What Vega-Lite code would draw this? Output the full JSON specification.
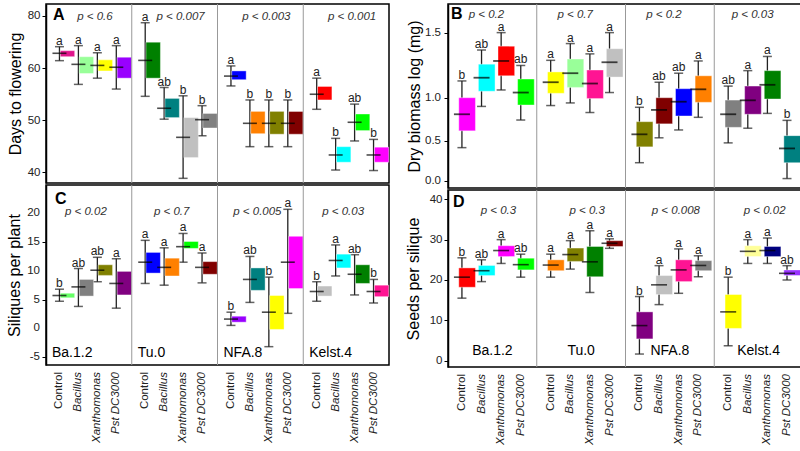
{
"$schema": "https://vega.github.io/schema/vega-lite/v6.json",
"padding": {"left": 5, "top": 2, "right": 0, "bottom": 0},
"background": "white",
"config": {
  "font": "Liberation Sans",
  "view": {"stroke": "black", "strokeWidth": 1.5},
  "axis": {"domainColor": "black", "domainWidth": 1.5, "tickColor": "black", "tickSize": 4, "labelFontSize": 11.5, "labelColor": "#222", "labelOverlap": false, "labelBound": false, "labelFlush": false, "labelSeparation": 0, "titleFontSize": 16, "titleFontWeight": "normal", "titleColor": "black", "grid": false, "labelPadding": 2, "titlePadding": 4}
},
"datasets": {
"boxes": [
{"panel":"A","genotype":"Ba.1.2","treatment":"Control","lo":62.9,"q1":64.4,"med":65.7,"q3":66.7,"hi":68.2,"letter":"a"},
{"panel":"A","genotype":"Ba.1.2","treatment":"Bacillus","lo":56.9,"q1":59.0,"med":61.5,"q3":64.4,"hi":68.6,"letter":"a"},
{"panel":"A","genotype":"Ba.1.2","treatment":"Xanthomonas","lo":58.1,"q1":59.5,"med":61.1,"q3":63.2,"hi":65.9,"letter":"a"},
{"panel":"A","genotype":"Ba.1.2","treatment":"Pst DC3000","lo":56.0,"q1":58.1,"med":60.4,"q3":64.2,"hi":68.6,"letter":"a"},
{"panel":"A","genotype":"Tu.0","treatment":"Control","lo":54.6,"q1":58.1,"med":63.0,"q3":69.9,"hi":77.3,"letter":"a"},
{"panel":"A","genotype":"Tu.0","treatment":"Bacillus","lo":50.2,"q1":50.5,"med":52.3,"q3":54.2,"hi":56.3,"letter":"ab"},
{"panel":"A","genotype":"Tu.0","treatment":"Xanthomonas","lo":38.8,"q1":42.8,"med":46.7,"q3":50.5,"hi":54.7,"letter":"b"},
{"panel":"A","genotype":"Tu.0","treatment":"Pst DC3000","lo":47.0,"q1":48.5,"med":50.1,"q3":51.3,"hi":52.8,"letter":"b"},
{"panel":"A","genotype":"NFA.8","treatment":"Control","lo":56.6,"q1":57.8,"med":58.5,"q3":59.5,"hi":60.9,"letter":"a"},
{"panel":"A","genotype":"NFA.8","treatment":"Bacillus","lo":44.9,"q1":47.4,"med":49.4,"q3":51.7,"hi":53.9,"letter":"b"},
{"panel":"A","genotype":"NFA.8","treatment":"Xanthomonas","lo":44.9,"q1":47.3,"med":49.4,"q3":51.7,"hi":53.9,"letter":"b"},
{"panel":"A","genotype":"NFA.8","treatment":"Pst DC3000","lo":44.9,"q1":47.3,"med":49.4,"q3":51.7,"hi":53.9,"letter":"b"},
{"panel":"A","genotype":"Kelst.4","treatment":"Control","lo":52.1,"q1":53.9,"med":55.0,"q3":56.5,"hi":58.1,"letter":"a"},
{"panel":"A","genotype":"Kelst.4","treatment":"Bacillus","lo":40.4,"q1":41.9,"med":43.3,"q3":44.9,"hi":46.5,"letter":"b"},
{"panel":"A","genotype":"Kelst.4","treatment":"Xanthomonas","lo":46.0,"q1":48.0,"med":49.6,"q3":51.2,"hi":53.1,"letter":"ab"},
{"panel":"A","genotype":"Kelst.4","treatment":"Pst DC3000","lo":40.3,"q1":41.9,"med":43.3,"q3":44.8,"hi":46.3,"letter":"b"},
{"panel":"B","genotype":"Ba.1.2","treatment":"Control","lo":0.42,"q1":0.62,"med":0.81,"q3":1.0,"hi":1.13,"letter":"b"},
{"panel":"B","genotype":"Ba.1.2","treatment":"Bacillus","lo":0.90,"q1":1.05,"med":1.155,"q3":1.26,"hi":1.37,"letter":"ab"},
{"panel":"B","genotype":"Ba.1.2","treatment":"Xanthomonas","lo":1.06,"q1":1.17,"med":1.285,"q3":1.40,"hi":1.505,"letter":"a"},
{"panel":"B","genotype":"Ba.1.2","treatment":"Pst DC3000","lo":0.744,"q1":0.916,"med":1.04,"q3":1.145,"hi":1.25,"letter":"ab"},
{"panel":"B","genotype":"Tu.0","treatment":"Control","lo":0.91,"q1":1.034,"med":1.12,"q3":1.20,"hi":1.29,"letter":"a"},
{"panel":"B","genotype":"Tu.0","treatment":"Bacillus","lo":0.94,"q1":1.08,"med":1.19,"q3":1.30,"hi":1.42,"letter":"a"},
{"panel":"B","genotype":"Tu.0","treatment":"Xanthomonas","lo":0.83,"q1":0.99,"med":1.11,"q3":1.215,"hi":1.34,"letter":"a"},
{"panel":"B","genotype":"Tu.0","treatment":"Pst DC3000","lo":1.04,"q1":1.16,"med":1.275,"q3":1.38,"hi":1.505,"letter":"a"},
{"panel":"B","genotype":"NFA.8","treatment":"Control","lo":0.23,"q1":0.43,"med":0.58,"q3":0.725,"hi":0.89,"letter":"b"},
{"panel":"B","genotype":"NFA.8","treatment":"Bacillus","lo":0.54,"q1":0.70,"med":0.86,"q3":1.0,"hi":1.12,"letter":"ab"},
{"panel":"B","genotype":"NFA.8","treatment":"Xanthomonas","lo":0.63,"q1":0.79,"med":0.954,"q3":1.07,"hi":1.19,"letter":"ab"},
{"panel":"B","genotype":"NFA.8","treatment":"Pst DC3000","lo":0.775,"q1":0.947,"med":1.065,"q3":1.17,"hi":1.285,"letter":"a"},
{"panel":"B","genotype":"Kelst.4","treatment":"Control","lo":0.48,"q1":0.66,"med":0.81,"q3":0.973,"hi":1.09,"letter":"ab"},
{"panel":"B","genotype":"Kelst.4","treatment":"Bacillus","lo":0.65,"q1":0.81,"med":0.97,"q3":1.09,"hi":1.21,"letter":"a"},
{"panel":"B","genotype":"Kelst.4","treatment":"Xanthomonas","lo":0.82,"q1":0.985,"med":1.10,"q3":1.21,"hi":1.32,"letter":"a"},
{"panel":"B","genotype":"Kelst.4","treatment":"Pst DC3000","lo":0.03,"q1":0.23,"med":0.41,"q3":0.565,"hi":0.74,"letter":"b"},
{"panel":"C","genotype":"Ba.1.2","treatment":"Control","lo":4.7,"q1":5.3,"med":5.7,"q3":6.1,"hi":6.8,"letter":"b"},
{"panel":"C","genotype":"Ba.1.2","treatment":"Bacillus","lo":3.8,"q1":5.6,"med":7.2,"q3":8.5,"hi":10.4,"letter":"ab"},
{"panel":"C","genotype":"Ba.1.2","treatment":"Xanthomonas","lo":8.1,"q1":9.2,"med":10.1,"q3":11.05,"hi":12.35,"letter":"ab"},
{"panel":"C","genotype":"Ba.1.2","treatment":"Pst DC3000","lo":3.5,"q1":5.8,"med":7.8,"q3":9.9,"hi":12.1,"letter":"a"},
{"panel":"C","genotype":"Tu.0","treatment":"Control","lo":7.8,"q1":9.6,"med":11.5,"q3":13.2,"hi":15.3,"letter":"a"},
{"panel":"C","genotype":"Tu.0","treatment":"Bacillus","lo":7.5,"q1":9.1,"med":10.6,"q3":12.2,"hi":14.0,"letter":"a"},
{"panel":"C","genotype":"Tu.0","treatment":"Xanthomonas","lo":11.5,"q1":13.9,"med":14.2,"q3":15.1,"hi":16.5,"letter":"a"},
{"panel":"C","genotype":"Tu.0","treatment":"Pst DC3000","lo":7.9,"q1":9.4,"med":10.6,"q3":11.6,"hi":13.1,"letter":"a"},
{"panel":"C","genotype":"NFA.8","treatment":"Control","lo":0.5,"q1":1.06,"med":1.6,"q3":2.1,"hi":2.8,"letter":"b"},
{"panel":"C","genotype":"NFA.8","treatment":"Bacillus","lo":4.5,"q1":6.6,"med":8.5,"q3":10.5,"hi":12.5,"letter":"ab"},
{"panel":"C","genotype":"NFA.8","treatment":"Xanthomonas","lo":-3.2,"q1":-0.2,"med":2.8,"q3":5.7,"hi":8.9,"letter":"b"},
{"panel":"C","genotype":"NFA.8","treatment":"Pst DC3000","lo":2.6,"q1":6.9,"med":11.5,"q3":16.0,"hi":20.7,"letter":"a"},
{"panel":"C","genotype":"Kelst.4","treatment":"Control","lo":4.7,"q1":5.6,"med":6.4,"q3":7.35,"hi":8.1,"letter":"b"},
{"panel":"C","genotype":"Kelst.4","treatment":"Bacillus","lo":9.1,"q1":10.5,"med":11.8,"q3":12.9,"hi":14.5,"letter":"a"},
{"panel":"C","genotype":"Kelst.4","treatment":"Xanthomonas","lo":5.8,"q1":7.8,"med":9.4,"q3":11.05,"hi":12.8,"letter":"ab"},
{"panel":"C","genotype":"Kelst.4","treatment":"Pst DC3000","lo":4.4,"q1":5.5,"med":6.4,"q3":7.5,"hi":8.5,"letter":"b"},
{"panel":"D","genotype":"Ba.1.2","treatment":"Control","lo":15.5,"q1":18.2,"med":20.7,"q3":23.0,"hi":25.5,"letter":"b"},
{"panel":"D","genotype":"Ba.1.2","treatment":"Bacillus","lo":19.6,"q1":21.1,"med":22.3,"q3":23.6,"hi":25.0,"letter":"ab"},
{"panel":"D","genotype":"Ba.1.2","treatment":"Xanthomonas","lo":24.1,"q1":25.8,"med":27.3,"q3":28.5,"hi":30.0,"letter":"a"},
{"panel":"D","genotype":"Ba.1.2","treatment":"Pst DC3000","lo":20.7,"q1":22.5,"med":23.8,"q3":25.4,"hi":26.4,"letter":"ab"},
{"panel":"D","genotype":"Tu.0","treatment":"Control","lo":20.7,"q1":22.3,"med":23.7,"q3":25.0,"hi":26.4,"letter":"a"},
{"panel":"D","genotype":"Tu.0","treatment":"Bacillus","lo":22.7,"q1":24.6,"med":26.3,"q3":27.9,"hi":29.75,"letter":"a"},
{"panel":"D","genotype":"Tu.0","treatment":"Xanthomonas","lo":16.9,"q1":20.8,"med":24.5,"q3":28.3,"hi":32.2,"letter":"a"},
{"panel":"D","genotype":"Tu.0","treatment":"Pst DC3000","lo":27.85,"q1":28.3,"med":29.1,"q3":29.75,"hi":30.2,"letter":"a"},
{"panel":"D","genotype":"NFA.8","treatment":"Control","lo":1.65,"q1":5.4,"med":8.7,"q3":12.1,"hi":15.9,"letter":"b"},
{"panel":"D","genotype":"NFA.8","treatment":"Bacillus","lo":13.9,"q1":16.4,"med":18.8,"q3":21.1,"hi":23.55,"letter":"a"},
{"panel":"D","genotype":"NFA.8","treatment":"Xanthomonas","lo":16.7,"q1":19.6,"med":22.5,"q3":25.0,"hi":27.7,"letter":"a"},
{"panel":"D","genotype":"NFA.8","treatment":"Pst DC3000","lo":20.8,"q1":22.3,"med":23.6,"q3":24.8,"hi":26.0,"letter":"a"},
{"panel":"D","genotype":"Kelst.4","treatment":"Control","lo":3.7,"q1":8.0,"med":12.1,"q3":16.4,"hi":20.7,"letter":"b"},
{"panel":"D","genotype":"Kelst.4","treatment":"Bacillus","lo":24.1,"q1":25.8,"med":27.1,"q3":28.5,"hi":30.0,"letter":"a"},
{"panel":"D","genotype":"Kelst.4","treatment":"Xanthomonas","lo":24.1,"q1":25.8,"med":27.3,"q3":28.3,"hi":30.4,"letter":"a"},
{"panel":"D","genotype":"Kelst.4","treatment":"Pst DC3000","lo":20.0,"q1":21.1,"med":21.65,"q3":22.5,"hi":23.55,"letter":"ab"}
],
"groups": [
{"panel":"A","genotype":"Ba.1.2","p":"p < 0.6"},
{"panel":"A","genotype":"Tu.0","p":"p < 0.007"},
{"panel":"A","genotype":"NFA.8","p":"p < 0.003"},
{"panel":"A","genotype":"Kelst.4","p":"p < 0.001"},
{"panel":"B","genotype":"Ba.1.2","p":"p < 0.2"},
{"panel":"B","genotype":"Tu.0","p":"p < 0.7"},
{"panel":"B","genotype":"NFA.8","p":"p < 0.2"},
{"panel":"B","genotype":"Kelst.4","p":"p < 0.03"},
{"panel":"C","genotype":"Ba.1.2","p":"p < 0.02"},
{"panel":"C","genotype":"Tu.0","p":"p < 0.7"},
{"panel":"C","genotype":"NFA.8","p":"p < 0.005"},
{"panel":"C","genotype":"Kelst.4","p":"p < 0.03"},
{"panel":"D","genotype":"Ba.1.2","p":"p < 0.3"},
{"panel":"D","genotype":"Tu.0","p":"p < 0.3"},
{"panel":"D","genotype":"NFA.8","p":"p < 0.008"},
{"panel":"D","genotype":"Kelst.4","p":"p < 0.02"}
],
"yticks": [
{"panel":"B","genotype":"Ba.1.2","value":0.0,"label":"0.0"},
{"panel":"B","genotype":"Ba.1.2","value":0.5,"label":"0.5"},
{"panel":"B","genotype":"Ba.1.2","value":1.0,"label":"1.0"},
{"panel":"B","genotype":"Ba.1.2","value":1.5,"label":"1.5"},
{"panel":"C","genotype":"Ba.1.2","value":-5,"label":"-5"},
{"panel":"C","genotype":"Ba.1.2","value":0,"label":"0"},
{"panel":"C","genotype":"Ba.1.2","value":5,"label":"5"},
{"panel":"C","genotype":"Ba.1.2","value":10,"label":"10"},
{"panel":"C","genotype":"Ba.1.2","value":15,"label":"15"},
{"panel":"C","genotype":"Ba.1.2","value":20,"label":"20"}
]
},
"spacing": 13,
"resolve": {"scale": {"color": "independent", "y": "independent", "x": "independent", "xOffset": "independent"}},
"hconcat": [
{
"spacing": -4,
"resolve": {"scale": {"color": "independent", "y": "independent", "x": "independent", "xOffset": "independent"}},
"vconcat": [
{
"width": 343, "height": 179,
"layer": [
{
"data": {"name": "boxes"},
"transform": [{"filter": "datum.panel === 'A'"}, {"calculate": "datum.genotype + '|' + datum.treatment", "as": "key"}],
"encoding": {
  "x": {"field": "genotype", "type": "nominal", "scale": {"domain": ["Ba.1.2","Tu.0","NFA.8","Kelst.4"], "paddingInner": 0, "paddingOuter": 0}, "axis": null},
  "xOffset": {"field": "treatment", "type": "nominal", "scale": {"domain": ["Control","Bacillus","Xanthomonas","Pst DC3000"], "paddingInner": 0, "paddingOuter": 0.263, "align": 0.4}}
},
"layer": [
{"mark": {"type": "rule", "color": "#222", "strokeWidth": 1.3},
 "encoding": {"y": {"field": "lo", "type": "quantitative", "title": "Days to flowering", "scale": {"domain": [37.9, 60, 84.4], "range": [179, 64.3, 0], "nice": false, "zero": false},
   "axis": {"values": [40,45,50,55,60,70,80], "labelOverlap": false, "labelExpr": "datum.value == 45 || datum.value == 55 || datum.value == 70 ? '' : datum.label"}},
  "y2": {"field": "hi"}}},
{"mark": {"type": "tick", "color": "#222", "size": 9, "thickness": 1.5}, "encoding": {"y": {"field": "lo", "type": "quantitative", "title": "Days to flowering"}}},
{"mark": {"type": "tick", "color": "#222", "size": 9, "thickness": 1.5}, "encoding": {"y": {"field": "hi", "type": "quantitative", "title": "Days to flowering"}}},
{"mark": {"type": "bar", "width": {"band": 0.76}, "stroke": "white", "strokeOpacity": 0.4, "strokeWidth": 1},
 "encoding": {"y": {"field": "q1", "type": "quantitative", "title": "Days to flowering"}, "y2": {"field": "q3"},
  "color": {"field": "key", "type": "nominal", "legend": null, "scale": {
   "domain": ["Ba.1.2|Control","Ba.1.2|Bacillus","Ba.1.2|Xanthomonas","Ba.1.2|Pst DC3000","Tu.0|Control","Tu.0|Bacillus","Tu.0|Xanthomonas","Tu.0|Pst DC3000","NFA.8|Control","NFA.8|Bacillus","NFA.8|Xanthomonas","NFA.8|Pst DC3000","Kelst.4|Control","Kelst.4|Bacillus","Kelst.4|Xanthomonas","Kelst.4|Pst DC3000"],
   "range": ["#e0168c","#99ff99","#ffff00","#9900ff","#008000","#008080","#c0c0c0","#808080","#0000ff","#ff8000","#808000","#800000","#ff0000","#00ffff","#00ff00","#ff00ff"]}}}},
{"mark": {"type": "tick", "color": "black", "size": 14, "thickness": 1.6}, "encoding": {"y": {"field": "med", "type": "quantitative", "title": "Days to flowering"}}},
{"mark": {"type": "text", "fontSize": 12, "color": "#222", "baseline": "alphabetic", "dy": -2}, "encoding": {"y": {"field": "hi", "type": "quantitative", "title": "Days to flowering"}, "text": {"field": "letter"}}}
]
},
{
"data": {"name": "groups"},
"transform": [{"filter": "datum.panel === 'A'"}],
"encoding": {"x": {"field": "genotype", "type": "nominal", "scale": {"domain": ["Ba.1.2","Tu.0","NFA.8","Kelst.4"], "paddingInner": 0, "paddingOuter": 0}, "axis": null}},
"layer": [
{"transform": [{"filter": "datum.genotype !== 'Ba.1.2'"}], "mark": {"type": "rule", "color": "#999", "strokeWidth": 1}, "encoding": {"x": {"field": "genotype", "type": "nominal", "bandPosition": 0}}},
{"mark": {"type": "text", "fontStyle": "italic", "fontSize": 11.5, "color": "#333", "dx": 6}, "encoding": {"y": {"datum": 79.6, "title": "Days to flowering"}, "text": {"field": "p"}}},
{"transform": [{"filter": "datum.genotype === 'Ba.1.2'"}], "mark": {"type": "text", "text": "A", "fontSize": 16, "fontWeight": "bold", "align": "left", "dx": 7, "color": "black"}, "encoding": {"x": {"field": "genotype", "type": "nominal", "bandPosition": 0}, "y": {"datum": 80.2, "title": "Days to flowering"}}}
]
}
]
},
{
"width": 343, "height": 180,
"layer": [
{
"data": {"name": "boxes"},
"transform": [{"filter": "datum.panel === 'C'"}, {"calculate": "datum.genotype + '|' + datum.treatment", "as": "key"}],
"encoding": {
  "x": {"field": "genotype", "type": "nominal", "scale": {"domain": ["Ba.1.2","Tu.0","NFA.8","Kelst.4"], "paddingInner": 0, "paddingOuter": 0}, "axis": null},
  "xOffset": {"field": "treatment", "type": "nominal", "scale": {"domain": ["Control","Bacillus","Xanthomonas","Pst DC3000"], "paddingInner": 0, "paddingOuter": 0.263, "align": 0.4}}
},
"layer": [
{"mark": {"type": "rule", "color": "#222", "strokeWidth": 1.3},
 "encoding": {"y": {"field": "lo", "type": "quantitative", "title": "Siliques per plant", "scale": {"domain": [-6.39, 24.93], "nice": false, "zero": false},
   "axis": {"values": [-5,0,5,10,15,20], "labels": false, "titlePadding": 19}},
  "y2": {"field": "hi"}}},
{"mark": {"type": "tick", "color": "#222", "size": 9, "thickness": 1.5}, "encoding": {"y": {"field": "lo", "type": "quantitative", "title": "Siliques per plant"}}},
{"mark": {"type": "tick", "color": "#222", "size": 9, "thickness": 1.5}, "encoding": {"y": {"field": "hi", "type": "quantitative", "title": "Siliques per plant"}}},
{"mark": {"type": "bar", "width": {"band": 0.76}, "stroke": "white", "strokeOpacity": 0.4, "strokeWidth": 1},
 "encoding": {"y": {"field": "q1", "type": "quantitative", "title": "Siliques per plant"}, "y2": {"field": "q3"},
  "color": {"field": "key", "type": "nominal", "legend": null, "scale": {
   "domain": ["Ba.1.2|Control","Ba.1.2|Bacillus","Ba.1.2|Xanthomonas","Ba.1.2|Pst DC3000","Tu.0|Control","Tu.0|Bacillus","Tu.0|Xanthomonas","Tu.0|Pst DC3000","NFA.8|Control","NFA.8|Bacillus","NFA.8|Xanthomonas","NFA.8|Pst DC3000","Kelst.4|Control","Kelst.4|Bacillus","Kelst.4|Xanthomonas","Kelst.4|Pst DC3000"],
   "range": ["#66ff66","#808080","#808000","#800080","#0000ff","#ff8000","#00ff00","#800000","#9900ff","#008080","#ffff00","#ff00ff","#c0c0c0","#00ffff","#008000","#ff1493"]}}}},
{"mark": {"type": "tick", "color": "black", "size": 14, "thickness": 1.6}, "encoding": {"y": {"field": "med", "type": "quantitative", "title": "Siliques per plant"}}},
{"mark": {"type": "text", "fontSize": 12, "color": "#222", "baseline": "alphabetic", "dy": -2}, "encoding": {"y": {"field": "hi", "type": "quantitative", "title": "Siliques per plant"}, "text": {"field": "letter"}}},
{"transform": [{"filter": "datum.treatment === 'Control'"}], "mark": {"type": "text", "angle": 270, "align": "right", "baseline": "middle", "dx": -7, "fontSize": 11.5, "color": "#222"}, "encoding": {"y": {"datum": -6.39, "title": "Siliques per plant"}, "text": {"field": "treatment"}}},
{"transform": [{"filter": "datum.treatment !== 'Control'"}], "mark": {"type": "text", "angle": 270, "align": "right", "baseline": "middle", "dx": -7, "fontSize": 11.5, "fontStyle": "italic", "color": "#222"}, "encoding": {"y": {"datum": -6.39, "title": "Siliques per plant"}, "text": {"field": "treatment"}}}
]
},
{
"data": {"name": "groups"},
"transform": [{"filter": "datum.panel === 'C'"}],
"encoding": {"x": {"field": "genotype", "type": "nominal", "scale": {"domain": ["Ba.1.2","Tu.0","NFA.8","Kelst.4"], "paddingInner": 0, "paddingOuter": 0}, "axis": null}},
"layer": [
{"transform": [{"filter": "datum.genotype !== 'Ba.1.2'"}], "mark": {"type": "rule", "color": "#999", "strokeWidth": 1}, "encoding": {"x": {"field": "genotype", "type": "nominal", "bandPosition": 0}}},
{"mark": {"type": "text", "fontStyle": "italic", "fontSize": 11.5, "color": "#333", "dx": -3}, "encoding": {"y": {"datum": 20.23, "title": "Siliques per plant"}, "text": {"field": "p"}}},
{"mark": {"type": "text", "fontSize": 14, "align": "left", "dx": 6, "color": "black"}, "encoding": {"x": {"field": "genotype", "type": "nominal", "bandPosition": 0}, "y": {"datum": -4.33, "title": "Siliques per plant"}, "text": {"field": "genotype"}}},
{"transform": [{"filter": "datum.genotype === 'Ba.1.2'"}], "mark": {"type": "text", "text": "C", "fontSize": 16, "fontWeight": "bold", "align": "left", "dx": 9, "color": "black"}, "encoding": {"x": {"field": "genotype", "type": "nominal", "bandPosition": 0}, "y": {"datum": 22.5, "title": "Siliques per plant"}}}
]
},
{
"data": {"name": "yticks"},
"transform": [{"filter": "datum.panel === 'C'"}],
"mark": {"type": "text", "align": "right", "baseline": "middle", "dx": -6, "fontSize": 11.5, "color": "#222"},
"encoding": {"x": {"field": "genotype", "type": "nominal", "bandPosition": 0, "scale": {"domain": ["Ba.1.2","Tu.0","NFA.8","Kelst.4"], "paddingInner": 0, "paddingOuter": 0}, "axis": null}, "y": {"field": "value", "type": "quantitative", "title": "Siliques per plant"}, "text": {"field": "label"}}
}
]
}
]
},
{
"spacing": -5,
"resolve": {"scale": {"color": "independent", "y": "independent", "x": "independent", "xOffset": "independent"}},
"vconcat": [
{
"width": 355, "height": 184,
"layer": [
{
"data": {"name": "yticks"},
"transform": [{"filter": "datum.panel === 'B'"}],
"mark": {"type": "text", "align": "right", "baseline": "middle", "dx": -7, "fontSize": 11.5, "color": "#222", "zindex": 5},
"encoding": {"x": {"field": "genotype", "type": "nominal", "bandPosition": 0, "scale": {"domain": ["Ba.1.2","Tu.0","NFA.8","Kelst.4"], "paddingInner": 0, "paddingOuter": 0}, "axis": null}, "y": {"field": "value", "type": "quantitative", "title": "Dry biomass log (mg)", "scale": {"domain": [-0.089, 0.5, 1.0, 1.727], "range": [184, 137.3, 93.7, 0], "nice": false, "zero": false}, "axis": {"values": [0, 0.5, 1.0, 1.5], "labels": false, "titlePadding": 21}}, "text": {"field": "label"}}
},
{
"data": {"name": "boxes"},
"transform": [{"filter": "datum.panel === 'B'"}, {"calculate": "datum.genotype + '|' + datum.treatment", "as": "key"}],
"encoding": {
  "x": {"field": "genotype", "type": "nominal", "scale": {"domain": ["Ba.1.2","Tu.0","NFA.8","Kelst.4"], "paddingInner": 0, "paddingOuter": 0}, "axis": null},
  "xOffset": {"field": "treatment", "type": "nominal", "scale": {"domain": ["Control","Bacillus","Xanthomonas","Pst DC3000"], "paddingInner": 0, "paddingOuter": 0.263, "align": 0.4}}
},
"layer": [
{"mark": {"type": "rule", "color": "#222", "strokeWidth": 1.3},
 "encoding": {"y": {"field": "lo", "type": "quantitative", "title": "Dry biomass log (mg)"}, "y2": {"field": "hi"}}},
{"mark": {"type": "tick", "color": "#222", "size": 9, "thickness": 1.5}, "encoding": {"y": {"field": "lo", "type": "quantitative", "title": "Dry biomass log (mg)"}}},
{"mark": {"type": "tick", "color": "#222", "size": 9, "thickness": 1.5}, "encoding": {"y": {"field": "hi", "type": "quantitative", "title": "Dry biomass log (mg)"}}},
{"mark": {"type": "bar", "width": {"band": 0.85}, "stroke": "white", "strokeOpacity": 0.4, "strokeWidth": 1},
 "encoding": {"y": {"field": "q1", "type": "quantitative", "title": "Dry biomass log (mg)"}, "y2": {"field": "q3"},
  "color": {"field": "key", "type": "nominal", "legend": null, "scale": {
   "domain": ["Ba.1.2|Control","Ba.1.2|Bacillus","Ba.1.2|Xanthomonas","Ba.1.2|Pst DC3000","Tu.0|Control","Tu.0|Bacillus","Tu.0|Xanthomonas","Tu.0|Pst DC3000","NFA.8|Control","NFA.8|Bacillus","NFA.8|Xanthomonas","NFA.8|Pst DC3000","Kelst.4|Control","Kelst.4|Bacillus","Kelst.4|Xanthomonas","Kelst.4|Pst DC3000"],
   "range": ["#ff00ff","#00ffff","#ff0000","#00ff00","#ffff00","#99ff99","#ff1493","#c0c0c0","#808000","#800000","#0000ff","#ff8000","#808080","#800080","#008000","#008080"]}}}},
{"mark": {"type": "tick", "color": "black", "size": 16, "thickness": 1.8}, "encoding": {"y": {"field": "med", "type": "quantitative", "title": "Dry biomass log (mg)"}}},
{"mark": {"type": "text", "fontSize": 12, "color": "#222", "baseline": "alphabetic", "dy": -2}, "encoding": {"y": {"field": "hi", "type": "quantitative", "title": "Dry biomass log (mg)"}, "text": {"field": "letter"}}}
]
},
{
"data": {"name": "groups"},
"transform": [{"filter": "datum.panel === 'B'"}],
"encoding": {"x": {"field": "genotype", "type": "nominal", "scale": {"domain": ["Ba.1.2","Tu.0","NFA.8","Kelst.4"], "paddingInner": 0, "paddingOuter": 0}, "axis": null}},
"layer": [
{"transform": [{"filter": "datum.genotype !== 'Ba.1.2'"}], "mark": {"type": "rule", "color": "#999", "strokeWidth": 1}, "encoding": {"x": {"field": "genotype", "type": "nominal", "bandPosition": 0}}},
{"mark": {"type": "text", "fontStyle": "italic", "fontSize": 11.5, "color": "#333", "dx": -6}, "encoding": {"y": {"datum": 1.64, "title": "Dry biomass log (mg)"}, "text": {"field": "p"}}},
{"transform": [{"filter": "datum.genotype === 'Ba.1.2'"}], "mark": {"type": "text", "text": "B", "fontSize": 16, "fontWeight": "bold", "align": "left", "dx": 3, "color": "black"}, "encoding": {"x": {"field": "genotype", "type": "nominal", "bandPosition": 0}, "y": {"datum": 1.65, "title": "Dry biomass log (mg)"}}}
]
}
]
},
{
"width": 355, "height": 177,
"layer": [
{
"data": {"name": "boxes"},
"transform": [{"filter": "datum.panel === 'D'"}, {"calculate": "datum.genotype + '|' + datum.treatment", "as": "key"}],
"encoding": {
  "x": {"field": "genotype", "type": "nominal", "scale": {"domain": ["Ba.1.2","Tu.0","NFA.8","Kelst.4"], "paddingInner": 0, "paddingOuter": 0}, "axis": null},
  "xOffset": {"field": "treatment", "type": "nominal", "scale": {"domain": ["Control","Bacillus","Xanthomonas","Pst DC3000"], "paddingInner": 0, "paddingOuter": 0.263, "align": 0.4}}
},
"layer": [
{"mark": {"type": "rule", "color": "#222", "strokeWidth": 1.3},
 "encoding": {"y": {"field": "lo", "type": "quantitative", "title": "Seeds per silique", "scale": {"domain": [-1.56, 42.3], "nice": false, "zero": false},
   "axis": {"values": [0,5,10,15,20,25,30,35,40], "labelOverlap": false, "labelExpr": "datum.value % 10 == 0 ? datum.label : ''", "titlePadding": 8}},
  "y2": {"field": "hi"}}},
{"mark": {"type": "tick", "color": "#222", "size": 9, "thickness": 1.5}, "encoding": {"y": {"field": "lo", "type": "quantitative", "title": "Seeds per silique"}}},
{"mark": {"type": "tick", "color": "#222", "size": 9, "thickness": 1.5}, "encoding": {"y": {"field": "hi", "type": "quantitative", "title": "Seeds per silique"}}},
{"mark": {"type": "bar", "width": {"band": 0.85}, "stroke": "white", "strokeOpacity": 0.4, "strokeWidth": 1},
 "encoding": {"y": {"field": "q1", "type": "quantitative", "title": "Seeds per silique"}, "y2": {"field": "q3"},
  "color": {"field": "key", "type": "nominal", "legend": null, "scale": {
   "domain": ["Ba.1.2|Control","Ba.1.2|Bacillus","Ba.1.2|Xanthomonas","Ba.1.2|Pst DC3000","Tu.0|Control","Tu.0|Bacillus","Tu.0|Xanthomonas","Tu.0|Pst DC3000","NFA.8|Control","NFA.8|Bacillus","NFA.8|Xanthomonas","NFA.8|Pst DC3000","Kelst.4|Control","Kelst.4|Bacillus","Kelst.4|Xanthomonas","Kelst.4|Pst DC3000"],
   "range": ["#ff0000","#00ffff","#ff00ff","#00ff00","#ff8000","#808000","#008000","#800000","#800080","#c0c0c0","#ff1493","#808080","#ffff00","#ffff99","#000080","#9933ff"]}}}},
{"mark": {"type": "tick", "color": "black", "size": 16, "thickness": 1.6}, "encoding": {"y": {"field": "med", "type": "quantitative", "title": "Seeds per silique"}}},
{"mark": {"type": "text", "fontSize": 12, "color": "#222", "baseline": "alphabetic", "dy": -2}, "encoding": {"y": {"field": "hi", "type": "quantitative", "title": "Seeds per silique"}, "text": {"field": "letter"}}},
{"transform": [{"filter": "datum.treatment === 'Control'"}], "mark": {"type": "text", "angle": 270, "align": "right", "baseline": "middle", "dx": -7, "fontSize": 11.5, "color": "#222"}, "encoding": {"y": {"datum": -1.56, "title": "Seeds per silique"}, "text": {"field": "treatment"}}},
{"transform": [{"filter": "datum.treatment !== 'Control'"}], "mark": {"type": "text", "angle": 270, "align": "right", "baseline": "middle", "dx": -7, "fontSize": 11.5, "fontStyle": "italic", "color": "#222"}, "encoding": {"y": {"datum": -1.56, "title": "Seeds per silique"}, "text": {"field": "treatment"}}}
]
},
{
"data": {"name": "groups"},
"transform": [{"filter": "datum.panel === 'D'"}],
"encoding": {"x": {"field": "genotype", "type": "nominal", "scale": {"domain": ["Ba.1.2","Tu.0","NFA.8","Kelst.4"], "paddingInner": 0, "paddingOuter": 0}, "axis": null}},
"layer": [
{"transform": [{"filter": "datum.genotype !== 'Ba.1.2'"}], "mark": {"type": "rule", "color": "#999", "strokeWidth": 1}, "encoding": {"x": {"field": "genotype", "type": "nominal", "bandPosition": 0}}},
{"mark": {"type": "text", "fontStyle": "italic", "fontSize": 11.5, "color": "#333", "dx": 6}, "encoding": {"y": {"datum": 37.0, "title": "Seeds per silique"}, "text": {"field": "p"}}},
{"mark": {"type": "text", "fontSize": 14, "color": "black"}, "encoding": {"y": {"datum": 2.4, "title": "Seeds per silique"}, "text": {"field": "genotype"}}},
{"transform": [{"filter": "datum.genotype === 'Ba.1.2'"}], "mark": {"type": "text", "text": "D", "fontSize": 16, "fontWeight": "bold", "align": "left", "dx": 5, "color": "black"}, "encoding": {"x": {"field": "genotype", "type": "nominal", "bandPosition": 0}, "y": {"datum": 39.4, "title": "Seeds per silique"}}}
]
}
]
}
]
}
]
}
